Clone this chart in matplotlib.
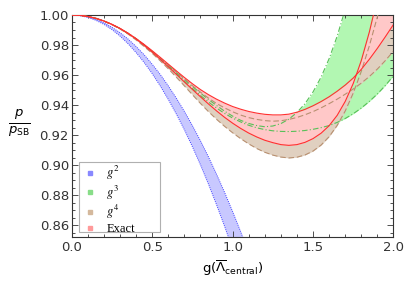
import numpy as np
import matplotlib.pyplot as plt
from matplotlib.lines import Line2D
from matplotlib.patches import Rectangle
from matplotlib.font_manager import FontProperties
from matplotlib.ticker import MultipleLocator

# coupling grid, step 0.05 from 0 to 2
g = np.linspace(0, 2, 41)

# g^2 band (blue)
blue_hi = [1.0, .9997, .9987, .9971, .9948, .9918, .9882, .984, .979, .9735, .9672, .9604,
           .9528, .9446, .9358, .9263, .9162, .9054, .8939, .8818, .869, .8556, .8415]
blue_lo = [1.0, .9996, .9984, .9965, .9938, .9903, .986, .9809, .975, .9684, .961, .9528,
           .9438, .9341, .9236, .9123, .9002, .8873, .8736, .8592, .844, .8281, .8112]

# g^3 band (green)
green_a = [1.0, .9998, .999, .9978, .996, .9937, .991, .9878, .9842, .9801, .9757, .9712,
           .9665, .9617, .957, .9524, .948, .9437, .9397, .9359, .9326, .9298, .9277, .9263,
           .9255, .926, .9276, .9306, .935, .9409, .9487, .9586, .9709, .9859, 1.0039]
green_b = [1.0, .9998, .999, .9978, .996, .9937, .991, .9877, .9841, .98, .9755, .9708,
           .9659, .9609, .9559, .9511, .9464, .942, .938, .9344, .9313, .9287, .9265, .9248,
           .9236, .9228, .9224, .9223, .9225, .923, .9238, .9249, .9263, .9284, .931, .9342,
           .938, .9424, .9474, .9531, .9595]

# g^4 band (brown)
brown_a = [1.0, .9998, .999, .9978, .996, .9937, .991, .9878, .9842, .9802, .9758, .9713,
           .9667, .962, .9574, .9529, .9486, .9446, .941, .9381, .9355, .9333, .9316, .9304,
           .9296, .9292, .9295, .9304, .9317, .9335, .9356, .9381, .9409, .9439, .9472, .9507,
           .9546, .959, .964, .9697, .976]
brown_b = [1.0, .9998, .999, .9977, .9959, .9935, .9907, .9873, .9834, .979, .9745, .9695,
           .9642, .9586, .9528, .9469, .9411, .9356, .9305, .9258, .9215, .9176, .9141, .911,
           .9085, .9066, .9053, .9047, .9052, .9067, .9093, .9133, .9189, .9264, .936, .948,
           .9625, .9795, .9989, 1.0204]

# exact band (red)
red_a = [1.0, .9998, .999, .9978, .996, .9938, .9911, .9879, .9843, .9804, .9762, .9718,
         .9673, .9628, .9584, .9542, .9503, .9469, .9439, .9413, .939, .9372, .9357, .9346,
         .9338, .9334, .9334, .9339, .9352, .9371, .9395, .9423, .9455, .9492, .9533, .958,
         .9638, .9705, .9778, .9856, .9937]
red_b = [1.0, .9998, .999, .9978, .996, .9937, .991, .9877, .984, .9798, .9753, .9705,
         .9655, .9605, .9554, .9504, .9455, .9407, .9361, .9318, .9279, .9244, .9213, .9187,
         .9165, .9149, .9136, .9131, .9136, .9151, .9176, .9212, .9262, .9331, .9424, .9544,
         .9697, .9887, 1.0112]

labels = [r'$g^2$', r'$g^3$', r'$g^4$', 'Exact']


def band(ax, y1, y2, fill, line, ls, lw=0.8):
    x1 = g[:len(y1)]
    x2 = g[:len(y2)]
    a = np.interp(g, x1, y1)
    b = np.interp(g, x2, y2)
    n = max(len(y1), len(y2))
    ax.fill_between(g[:n], a[:n], b[:n], color=fill, lw=0)
    ax.plot(x1, y1, color=line, ls=ls, lw=lw, zorder=5)
    ax.plot(x2, y2, color=line, ls=ls, lw=lw, zorder=5)


fig = plt.figure(figsize=(4.05, 2.83), dpi=100)
ax = fig.add_axes([0.177, 0.1625, 0.7946, 0.7845])

band(ax, blue_hi, blue_lo, '#c8c8ff', '#4040ff', (0, (1, 1.2)), lw=0.7)
band(ax, green_a, green_b, '#b2f7b2', '#58c058', (0, (5, 2, 1, 2)))
band(ax, brown_a, brown_b, '#e0d0c0', '#b89070', (0, (5, 2.5)))
band(ax, red_a, red_b, '#ffc8c8', '#ff3030', '-')

ax.set_xlim(0, 2.0)
ax.set_ylim(0.852, 1.0)
ax.xaxis.set_major_locator(MultipleLocator(0.5))
ax.xaxis.set_minor_locator(MultipleLocator(0.1))
ax.yaxis.set_major_locator(MultipleLocator(0.02))
ax.yaxis.set_minor_locator(MultipleLocator(0.005))
ax.xaxis.set_major_formatter(plt.FormatStrFormatter('%.1f'))
ax.yaxis.set_major_formatter(plt.FormatStrFormatter('%.2f'))
ax.tick_params(which='both', direction='in', top=True, right=True, colors='#333333',
               labelsize=9.5, width=0.6)
ax.tick_params(axis='y', pad=2)
ax.tick_params(axis='x', pad=3)
ax.tick_params(which='major', length=4)
ax.tick_params(which='minor', length=2)
for s in ax.spines.values():
    s.set_linewidth(0.8)
    s.set_color('#333333')

# legend box drawn separately so its size can follow the original
ax.add_patch(Rectangle((0.0227, 0.0225), 0.251, 0.316, transform=ax.transAxes,
                       facecolor='white', edgecolor='#b0b0b0', lw=0.8, zorder=6))
handles = [Line2D([], [], marker='s', ls='none', markersize=3.5, color=c)
           for c in ['#8888ff', '#88dd88', '#d4b89c', '#ff9a9a']]
leg = ax.legend(handles, labels, loc='upper left', bbox_to_anchor=(0.03, 0.345),
                borderaxespad=0, frameon=False,
                handlelength=0.8, handletextpad=0.9, labelspacing=0.12,
                borderpad=0.3,
                prop=FontProperties(family='Liberation Serif', size=9,
                                    math_fontfamily='stix'))
leg.set_zorder(7)

fig.text(0.048, 0.565, r'$\frac{p}{p_{\mathrm{SB}}}$', fontsize=13.5, ha='center',
         va='center', math_fontfamily='dejavusans')
ax.set_xlabel(r'g$(\overline{\Lambda}_{\mathrm{central}})$', fontsize=9.5, labelpad=3)

fig.savefig('out.png', dpi=100)
